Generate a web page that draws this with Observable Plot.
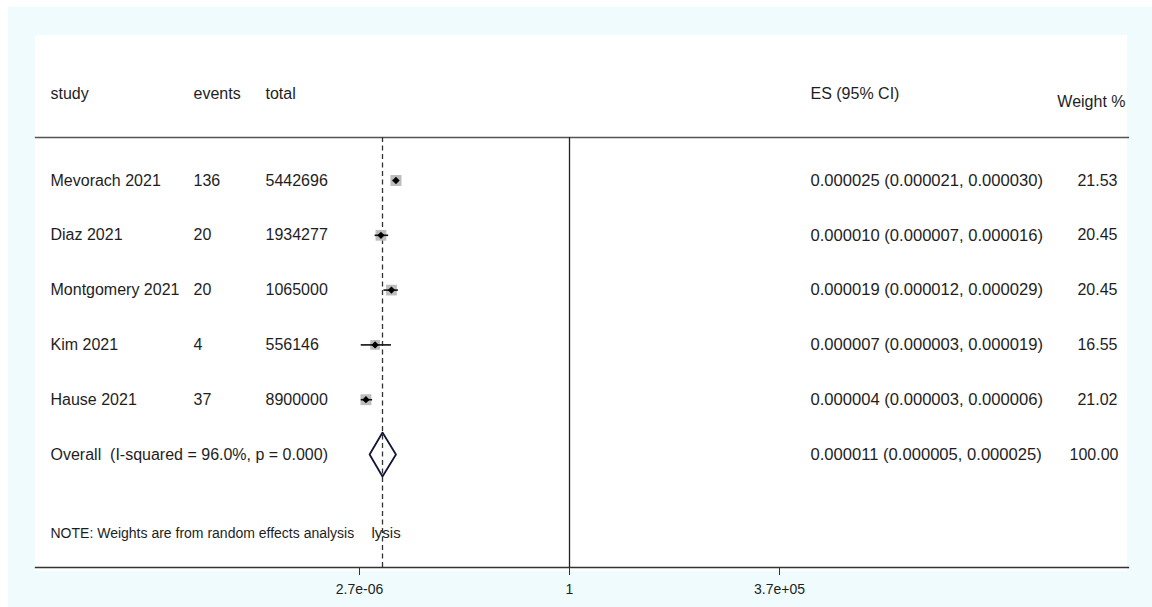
<!DOCTYPE html>
<html>
<head>
<meta charset="utf-8">
<script src="https://cdn.jsdelivr.net/npm/d3@7"></script>
<script src="https://cdn.jsdelivr.net/npm/@observablehq/plot@0.6"></script>
<style>
  html, body { margin: 0; padding: 0; background: #ffffff; }
  #wrap { position: relative; width: 1152px; height: 607px; overflow: hidden; }
  #bg { position: absolute; left: 8px; top: 7px; right: 0; bottom: 0; background: #effbfd; }
  #panel { position: absolute; left: 35px; top: 35px; width: 1092px; height: 536px; background: #ffffff; }
  #chart { position: absolute; left: 0; top: 0; }
  #chart text { white-space: pre; }
</style>
</head>
<body>
<div id="wrap"><div id="bg"></div><div id="panel"></div><div id="chart"></div></div>
<script>
// ---- data ----
const studies = ["Mevorach 2021", "Diaz 2021", "Montgomery 2021", "Kim 2021", "Hause 2021"];
const events = [136, 20, 20, 4, 37];
const totals = [5442696, 1934277, 1065000, 556146, 8900000];
const es = [0.000025, 0.000010, 0.000019, 0.000007, 0.000004];
const ciLow = [0.000021, 0.000007, 0.000012, 0.000003, 0.000003];
const ciHigh = [0.000030, 0.000016, 0.000029, 0.000019, 0.000006];
const esLabels = ["0.000025 (0.000021, 0.000030)", "0.000010 (0.000007, 0.000016)", "0.000019 (0.000012, 0.000029)", "0.000007 (0.000003, 0.000019)", "0.000004 (0.000003, 0.000006)"];
const weights = ["21.53", "20.45", "20.45", "16.55", "21.02"];
const overallLabel = "Overall  (I-squared = 96.0%, p = 0.000)";
const overallES = 0.000011;
const overallLow = 0.000005;
const overallHigh = 0.000025;
const overallESLabel = "0.000011 (0.000005, 0.000025)";
const overallWeight = "100.00";
const headers = ["study", "events", "total", "ES (95% CI)", "Weight %"];
const noteText = "NOTE: Weights are from random effects analysis";
const strayText = "lysis";
const xTicks = [2.7e-06, 1, 3.7e+05];
const xTickLabels = ["2.7e-06", "1", "3.7e+05"];

// ---- tables built from the arrays ----
const rows = studies.map((s, i) => ({
  row: i, study: s, events: String(events[i]), total: String(totals[i]),
  es: es[i], lo: ciLow[i], hi: ciHigh[i], esLabel: esLabels[i], weight: weights[i], w: +weights[i]
}));
const oRow = studies.length;
const diamond = [
  {x: overallLow, y: oRow},
  {x: overallES, y: oRow - 0.4},
  {x: overallHigh, y: oRow},
  {x: overallES, y: oRow + 0.4},
  {x: overallLow, y: oRow}
];
const tickLabelOf = d => xTickLabels[xTicks.findIndex(t => Math.abs(Math.log(t) - Math.log(d)) < 1e-6)];

const font = "Liberation Sans, Arial, Helvetica, sans-serif";
const txt = "#1e1e1e";
const fs = 16;
const hdr = (text, dx, dy, anchor = "start", frameAnchor = "top-left") =>
  Plot.text([text], {frameAnchor, dx, dy, text: d => d, textAnchor: anchor, lineAnchor: "middle", fontSize: fs, fill: txt});

const chart = Plot.plot({
  width: 1152,
  height: 607,
  marginTop: 137,
  marginBottom: 40,
  marginLeft: 35,
  marginRight: 24,
  style: {background: "transparent", fontFamily: font, color: txt},
  x: {type: "log", domain: [xTicks[0], xTicks[2]], range: [359, 779]},
  y: {domain: [0, 5], range: [180, 454], axis: null},
  r: {type: "identity"},
  marks: [
    // header line and bottom axis line
    Plot.frame({anchor: "top", stroke: "#555", strokeWidth: 1.3}),
    Plot.frame({anchor: "bottom", stroke: "#333", strokeWidth: 1.3}),
    // null line and overall dashed line
    Plot.ruleX([1], {stroke: "#222", strokeWidth: 1.3}),
    Plot.ruleX([overallES], {stroke: "#333", strokeWidth: 1.3, strokeDasharray: "5,3.5"}),
    // weight boxes (area proportional to weight)
    Plot.dot(rows, {x: "es", y: "row", r: d => 1.34 * Math.sqrt(d.w), symbol: "square", fill: "#bdbdbd", stroke: "none"}),
    // CIs
    Plot.ruleY(rows, {y: "row", x1: "lo", x2: "hi", stroke: "#111", strokeWidth: 1.6}),
    // point estimates
    Plot.dot(rows, {x: "es", y: "row", r: 3.3, symbol: "diamond2", fill: "#000", stroke: "none"}),
    // overall diamond
    Plot.line(diamond, {x: "x", y: "y", stroke: "#15153a", strokeWidth: 1.8, curve: "linear"}),
    // headers
    hdr(headers[0], 15, -44),
    hdr(headers[1], 158, -44),
    hdr(headers[2], 230, -44),
    hdr(headers[3], 775, -44),
    hdr(headers[4], -3, -36, "end", "top-right"),
    // row texts
    Plot.text(rows, {y: "row", frameAnchor: "left", dx: 15, text: "study", textAnchor: "start", fontSize: fs, fill: txt}),
    Plot.text(rows, {y: "row", frameAnchor: "left", dx: 158, text: "events", textAnchor: "start", fontSize: fs, fill: txt}),
    Plot.text(rows, {y: "row", frameAnchor: "left", dx: 230, text: "total", textAnchor: "start", fontSize: fs, fill: txt}),
    Plot.text(rows, {y: "row", frameAnchor: "left", dx: 775, text: "esLabel", textAnchor: "start", fontSize: 16.6, fill: txt}),
    Plot.text(rows, {y: "row", frameAnchor: "right", dx: -11, text: "weight", textAnchor: "end", fontSize: fs, fill: txt}),
    // overall row texts
    Plot.text([overallLabel], {y: [oRow], frameAnchor: "left", dx: 15, text: d => d, textAnchor: "start", fontSize: fs, fill: txt}),
    Plot.text([overallESLabel], {y: [oRow], frameAnchor: "left", dx: 775, text: d => d, textAnchor: "start", fontSize: 16.6, fill: txt}),
    Plot.text([overallWeight], {y: [oRow], frameAnchor: "right", dx: -10, text: d => d, textAnchor: "end", fontSize: fs, fill: txt}),
    // note
    Plot.text([noteText], {frameAnchor: "bottom-left", dx: 15, dy: -34, text: d => d, textAnchor: "start", lineAnchor: "middle", fontSize: 14, fill: txt}),
    Plot.text([strayText], {frameAnchor: "bottom-left", dx: 336, dy: -34, text: d => d, textAnchor: "start", lineAnchor: "middle", fontSize: 15, fill: txt}),
    // x axis
    Plot.axisX({ticks: xTicks, tickFormat: tickLabelOf, tickSize: 8, tickPadding: 9, fontSize: 14, label: null, stroke: "#333", fill: txt})
  ]
});
document.getElementById("chart").appendChild(chart);
</script>
</body>
</html>
